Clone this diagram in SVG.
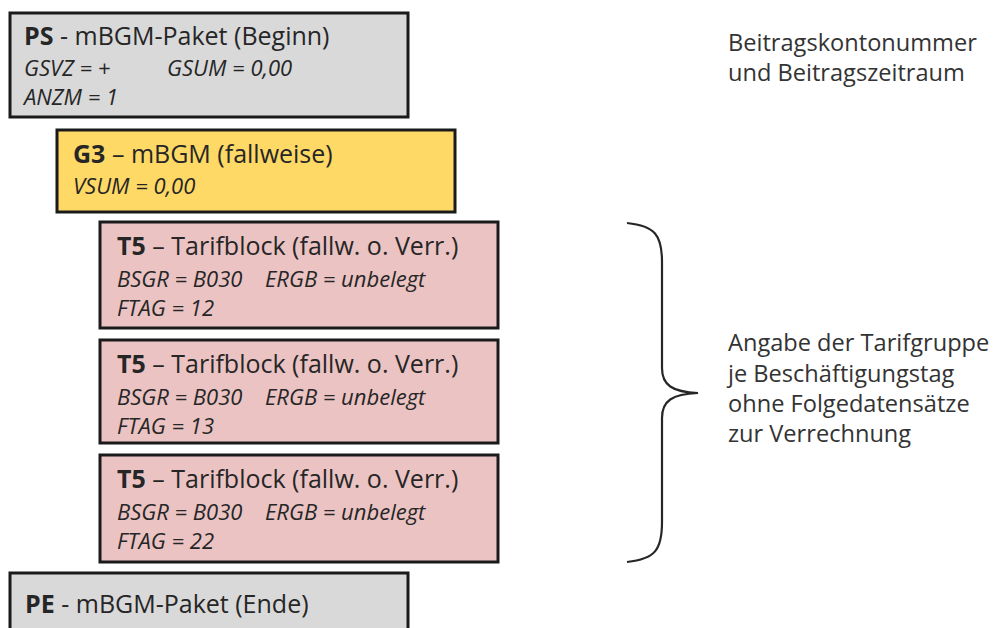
<svg xmlns="http://www.w3.org/2000/svg" width="1002" height="628" viewBox="0 0 1002 628">
<style>
.box{stroke:#1a1a1a;stroke-width:3}
.gray{fill:#d9d9d9}
.yel{fill:#ffd966}
.pink{fill:#ebc3c3}
text{font-family:"Open Sans",Lato,"Liberation Sans",sans-serif;fill:#262626}
.t{font-size:25px}
.i{font-size:22px;font-style:italic}
.b{font-weight:bold}
.r{font-size:23.6px;fill:#333}
</style>
<rect width="1002" height="628" fill="#fff"/>
<g id="ps">
<rect class="box gray" x="10" y="13" width="398" height="104"/>
<text class="t" x="24" y="45"><tspan class="b">PS</tspan> - mBGM-Paket (Beginn)</text>
<text class="i" x="24" y="76">GSVZ = +<tspan x="167">GSUM = 0,00</tspan></text>
<text class="i" x="24" y="105">ANZM = 1</text>
</g>
<g id="g3">
<rect class="box yel" x="57" y="130" width="398" height="82"/>
<text class="t" x="73" y="163"><tspan class="b">G3</tspan> – mBGM (fallweise)</text>
<text class="i" x="73" y="194">VSUM = 0,00</text>
</g>
<g id="t5a">
<rect class="box pink" x="100" y="222" width="398" height="106"/>
<text class="t" x="117" y="255"><tspan class="b">T5</tspan> – Tarifblock (fallw. o. Verr.)</text>
<text class="i" x="117" y="287">BSGR = B030<tspan x="265">ERGB = unbelegt</tspan></text>
<text class="i" x="117" y="316">FTAG = 12</text>
</g>
<g id="t5b">
<rect class="box pink" x="100" y="340" width="398" height="103"/>
<text class="t" x="117" y="373"><tspan class="b">T5</tspan> – Tarifblock (fallw. o. Verr.)</text>
<text class="i" x="117" y="405">BSGR = B030<tspan x="265">ERGB = unbelegt</tspan></text>
<text class="i" x="117" y="434">FTAG = 13</text>
</g>
<g id="t5c">
<rect class="box pink" x="100" y="455" width="398" height="107"/>
<text class="t" x="117" y="488"><tspan class="b">T5</tspan> – Tarifblock (fallw. o. Verr.)</text>
<text class="i" x="117" y="520">BSGR = B030<tspan x="265">ERGB = unbelegt</tspan></text>
<text class="i" x="117" y="549">FTAG = 22</text>
</g>
<g id="pe">
<rect class="box gray" x="10" y="573" width="398" height="70"/>
<text class="t" x="25" y="613"><tspan class="b">PE</tspan> - mBGM-Paket (Ende)</text>
</g>
<g id="note1">
<text class="r" x="728" y="51">Beitragskontonummer</text>
<text class="r" x="728" y="81">und Beitragszeitraum</text>
</g>
<g id="connectors">
<path d="M627,223 C655,226 662,235 662,262 L662,368 C662,385 672,392 698,393 C672,394 662,401 662,418 L662,522 C662,550 655,559 627,562" fill="none" stroke="#262626" stroke-width="2.2"/>
</g>
<g id="note2">
<text class="r" x="728" y="351">Angabe der Tarifgruppe</text>
<text class="r" x="728" y="382">je Beschäftigungstag</text>
<text class="r" x="728" y="412">ohne Folgedatensätze</text>
<text class="r" x="728" y="442">zur Verrechnung</text>
</g>
</svg>
